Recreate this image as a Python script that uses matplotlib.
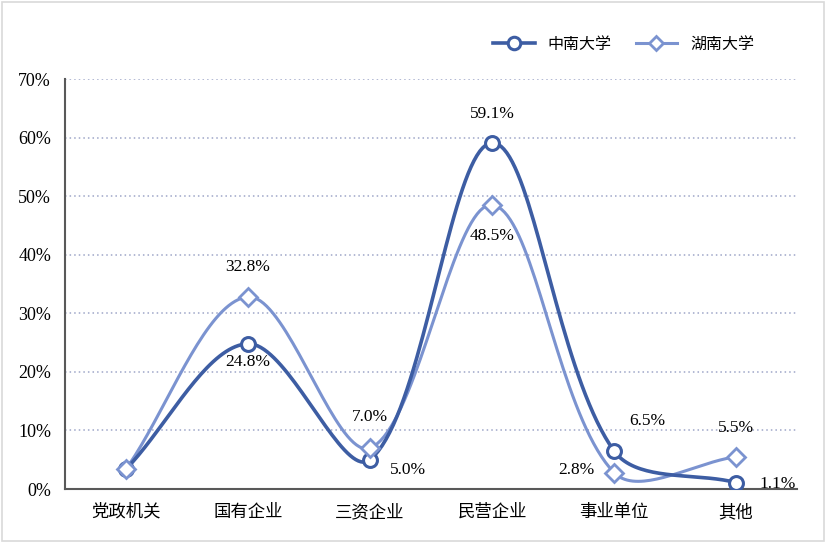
import numpy as np
import matplotlib.pyplot as plt
from matplotlib.patches import Rectangle

plt.rcParams['font.family'] = ['Noto Sans CJK SC', 'DejaVu Sans']

categories = ['党政机关', '国有企业', '三资企业', '民营企业', '事业单位', '其他']
csu = [3.4, 24.8, 5.0, 59.1, 6.5, 1.1]
hnu = [3.4, 32.8, 7.0, 48.5, 2.8, 5.5]
csu_labels = [None, '24.8%', '5.0%', '59.1%', '6.5%', '1.1%']
hnu_labels = [None, '32.8%', '7.0%', '48.5%', '2.8%', '5.5%']

c_csu = '#3d5da3'
c_hnu = '#7b93d0'


def smooth(x, y, yscale=0.048, n=40):
    # excel-like smoothed line: bezier with tangents scaled by segment length
    x = np.asarray(x, float)
    y = np.asarray(y, float) * yscale
    P = np.column_stack([x, y])
    m = len(P)
    seg = np.linalg.norm(np.diff(P, axis=0), axis=1)
    t = np.linspace(0, 1, n)
    out = []
    for i in range(m - 1):
        p0, p1 = P[i], P[i + 1]
        if i == 0:
            c1 = p0 + (p1 - p0) / 3
        else:
            d = P[i + 1] - P[i - 1]
            c1 = p0 + d * seg[i] / (seg[i - 1] + seg[i]) / 3
        if i == m - 2:
            c2 = p1 - (p1 - p0) / 3
        else:
            d = P[i + 2] - P[i]
            c2 = p1 - d * seg[i] / (seg[i] + seg[i + 1]) / 3
        b = ((1 - t) ** 3)[:, None] * p0 + (3 * (1 - t) ** 2 * t)[:, None] * c1 \
            + (3 * (1 - t) * t ** 2)[:, None] * c2 + (t ** 3)[:, None] * p1
        out.append(b)
    out = np.vstack(out)
    return out[:, 0], out[:, 1] / yscale


fig = plt.figure(figsize=(8.26, 5.43), dpi=100)
fig.patches.append(Rectangle((0.003, 0.004), 0.994, 0.992, transform=fig.transFigure,
                             fill=False, edgecolor='#d9d9d9', lw=1.2))
ax = fig.add_axes([0.0787, 0.0994, 0.8863, 0.7551])

x = np.arange(len(categories))
sx, sy = smooth(x, csu)
ax.plot(sx, sy, color=c_csu, lw=2.6, zorder=3)
ax.plot(x, csu, 'o', ms=10, mfc='white', mec=c_csu, mew=2.2, zorder=4)
hx, hy = smooth(x, hnu)
ax.plot(hx, hy, color=c_hnu, lw=2.2, zorder=2)
ax.plot(x, hnu, 'D', ms=9, mfc='white', mec=c_hnu, mew=2.0, zorder=4)

# legend handles with line through marker
h1, = ax.plot([], [], '-o', color=c_csu, lw=2.6, ms=9, mfc='white', mec=c_csu, mew=2.2)
h2, = ax.plot([], [], '-D', color=c_hnu, lw=2.2, ms=7, mfc='white', mec=c_hnu, mew=2.0)
fig.legend([h1, h2], ['中南大学', '湖南大学'], loc='center', bbox_to_anchor=(0.755, 0.918),
           ncol=2, frameon=False, fontsize=11.5, handlelength=2.6, columnspacing=1.5)

serif = {'family': 'Liberation Serif', 'size': 12.5}
csu_off = [None, (0, -18), (38, -10), (0, 29), (33, 30), (42, -1)]
hnu_off = [None, (0, 30), (0, 31), (0, -31), (-38, 3), (0, 29)]
for i in range(len(categories)):
    if csu_labels[i]:
        ax.annotate(csu_labels[i], (x[i], csu[i]), xytext=csu_off[i], textcoords='offset pixels',
                    ha='center', va='center', **serif)
    if hnu_labels[i]:
        ax.annotate(hnu_labels[i], (x[i], hnu[i]), xytext=hnu_off[i], textcoords='offset pixels',
                    ha='center', va='center', **serif)

ax.set_xlim(-0.5, len(categories) - 0.5)
ax.set_ylim(0, 70)
ax.set_yticks(range(0, 71, 10))
ax.set_yticklabels([f'{v}%' for v in range(0, 71, 10)], family='Liberation Serif', fontsize=13)
ax.set_xticks(x)
ax.set_xticklabels(categories, fontsize=12.5)
ax.tick_params(axis='y', length=0, pad=10)
ax.tick_params(axis='x', length=0, pad=10)
ax.grid(axis='y', linestyle=(0, (1, 2)), color='#9ea6c8', lw=1.1)
ax.set_axisbelow(True)
for s in ['top', 'right']:
    ax.spines[s].set_visible(False)
ax.spines['left'].set_color('#595959')
ax.spines['bottom'].set_color('#595959')
ax.spines['left'].set_linewidth(1.5)
ax.spines['bottom'].set_linewidth(1.5)

fig.savefig('out.png', dpi=100)
